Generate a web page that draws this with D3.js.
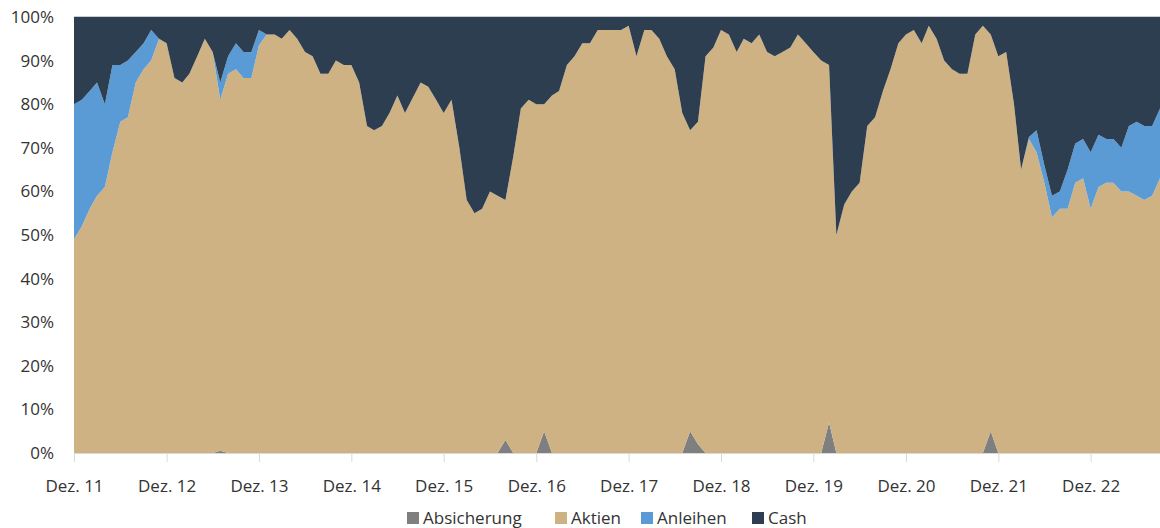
<!DOCTYPE html>
<html>
<head>
<meta charset="utf-8">
<script src="https://cdn.jsdelivr.net/npm/d3@7"></script>
<style>
  html, body { margin: 0; padding: 0; background: #fff; }
  svg { display: block; }
  text { font-family: "Open Sans", "Noto Sans", sans-serif; fill: #333; }
</style>
</head>
<body>
<svg id="chart" width="1160" height="528"></svg>
<script>
// ---- Data (monthly, Dez. 2011 ... Sep. 2023; one row = Dez..Nov) ----
const startMonth = new Date(2011, 11, 1);
const seriesKeys = ["Absicherung", "Aktien", "Anleihen", "Cash"];
const seriesColors = ["#7f7f7f", "#cfb283", "#5b9bd5", "#2d3e50"];

// Absicherung (% of portfolio)
const absicherung = [
  0,0,0,0,0,0,0,0,0,0,0,0,        // Dez 11 - Nov 12
  0,0,0,0,0,0,0,0.5,0,0,0,0,      // Dez 12 - Nov 13
  0,0,0,0,0,0,0,0,0,0,0,0,        // Dez 13 - Nov 14
  0,0,0,0,0,0,0,0,0,0,0,0,        // Dez 14 - Nov 15
  0,0,0,0,0,0,0,0,3,0,0,0,        // Dez 15 - Nov 16
  0,5,0,0,0,0,0,0,0,0,0,0,        // Dez 16 - Nov 17
  0,0,0,0,0,0,0,0,5,2,0,0,        // Dez 17 - Nov 18
  0,0,0,0,0,0,0,0,0,0,0,0,        // Dez 18 - Nov 19
  0,0,7,0,0,0,0,0,0,0,0,0,        // Dez 19 - Nov 20
  0,0,0,0,0,0,0,0,0,0,0,5,        // Dez 20 - Nov 21
  0,0,0,0,0,0,0,0,0,0,0,0,        // Dez 21 - Nov 22
  0,0,0,0,0,0,0,0,0,0             // Dez 22 - Sep 23
];
// Aktien + Absicherung (top edge of the tan area)
const aktienTop = [
  49,52,56,59,61,69,76,77,85,88,90,95,
  94,86,85,87,91,95,92,81,87,88,86,86,
  93.5,96,96,95,97,95,92,91,87,87,90,89,
  89,85,75,74,75,78,82,78,81.5,85,84,81,
  78,81,70,58,55,56,60,59,58,68,79,81,
  80,80,82,83,89,91,94,94,97,97,97,97,
  98,91,97,97,95,91,88,78,74,76,91,93,
  97,96,92,95,94,96,92,91,92,93,96,94,
  92,90,89,50,57,60,62,75,77,83,88,94,
  96,97,94,98,95,90,88,87,87,96,98,96,
  91,92,80,65,72,69,62,54,56,56,62,63,
  56,61,62,62,60,60,59,58,59,63
];
// Anleihen (% of portfolio)
const anleihen = [
  31,29,27,26,19,20,13,13,7,6,7,0,
  0,0,0,0,0,0,0,4,4,6,6,6,
  3.5,0,0,0,0,0,0,0,0,0,0,0,
  0,0,0,0,0,0,0,0,0,0,0,0,
  0,0,0,0,0,0,0,0,0,0,0,0,
  0,0,0,0,0,0,0,0,0,0,0,0,
  0,0,0,0,0,0,0,0,0,0,0,0,
  0,0,0,0,0,0,0,0,0,0,0,0,
  0,0,0,0,0,0,0,0,0,0,0,0,
  0,0,0,0,0,0,0,0,0,0,0,0,
  0,0,0,0,0.5,5,4,5,4,9,9,9,
  13,12,10,10,10,15,17,17,16,16
];

const yTicks = [0,10,20,30,40,50,60,70,80,90,100];
const xTickYears = [2011,2012,2013,2014,2015,2016,2017,2018,2019,2020,2021,2022];

(function () {
  const n = aktienTop.length;
  const months = d3.range(n).map(i => new Date(startMonth.getFullYear(), startMonth.getMonth() + i, 1));
  const table = months.map((d, i) => {
    const a = absicherung[i] || 0;
    const ak = aktienTop[i] - a;
    const an = anleihen[i] || 0;
    return { date: d, Absicherung: a, Aktien: ak, Anleihen: an, Cash: Math.max(0, 100 - a - ak - an) };
  });

  const svg = d3.select("#chart");
  const mLeft = 74, mRight = 1160, mTop = 17, mBottom = 453;

  const x = d3.scaleTime().domain([months[0], months[n - 1]]).range([mLeft, mRight]);
  const y = d3.scaleLinear().domain([0, 100]).range([mBottom, mTop]);
  const color = d3.scaleOrdinal().domain(seriesKeys).range(seriesColors);

  const stacked = d3.stack().keys(seriesKeys)(table);
  const area = d3.area()
    .x(d => x(d.data.date))
    .y0(d => y(d[0]))
    .y1(d => y(d[1]));

  svg.append("g").selectAll("path")
    .data(stacked)
    .join("path")
    .attr("fill", d => color(d.key))
    .attr("d", area);

  // top border line at 100%
  svg.append("line")
    .attr("x1", mLeft).attr("x2", mRight)
    .attr("y1", y(100) - 0.5).attr("y2", y(100) - 0.5)
    .attr("stroke", "#c9ccd1").attr("stroke-width", 1);

  // Y axis
  const yAxis = d3.axisLeft(y).tickValues(yTicks).tickFormat(d => d + "%").tickSize(0).tickPadding(20);
  const yg = svg.append("g").attr("transform", `translate(${mLeft},0)`).call(yAxis);
  yg.select(".domain").remove();
  yg.selectAll("text").attr("font-size", 17).attr("fill", "#333")
    .style("font-family", '"Open Sans", "Noto Sans", sans-serif');

  // X axis
  const xAxis = d3.axisBottom(x)
    .tickValues(xTickYears.map(yr => new Date(yr, 11, 1)))
    .tickFormat(d => "Dez. " + String(d.getFullYear()).slice(2))
    .tickSize(9).tickPadding(18);
  const xg = svg.append("g").attr("transform", `translate(0,${mBottom})`).call(xAxis);
  xg.select(".domain").attr("stroke", "#d9d9d9").attr("d", `M${mLeft},0.5H${mRight}`);
  xg.selectAll(".tick line").attr("stroke", "#d9d9d9");
  xg.selectAll("text").attr("font-size", 17).attr("fill", "#333")
    .style("font-family", '"Open Sans", "Noto Sans", sans-serif');

  // Legend
  const legendX = [407, 555, 641, 752];
  const lg = svg.append("g");
  seriesKeys.forEach((k, i) => {
    const g = lg.append("g").attr("transform", `translate(${legendX[i]},0)`);
    g.append("rect").attr("x", 0).attr("y", 512).attr("width", 12).attr("height", 12).attr("fill", color(k));
    g.append("text").attr("x", 16).attr("y", 523.5).attr("font-size", 17).text(k);
  });
})();
</script>
</body>
</html>
